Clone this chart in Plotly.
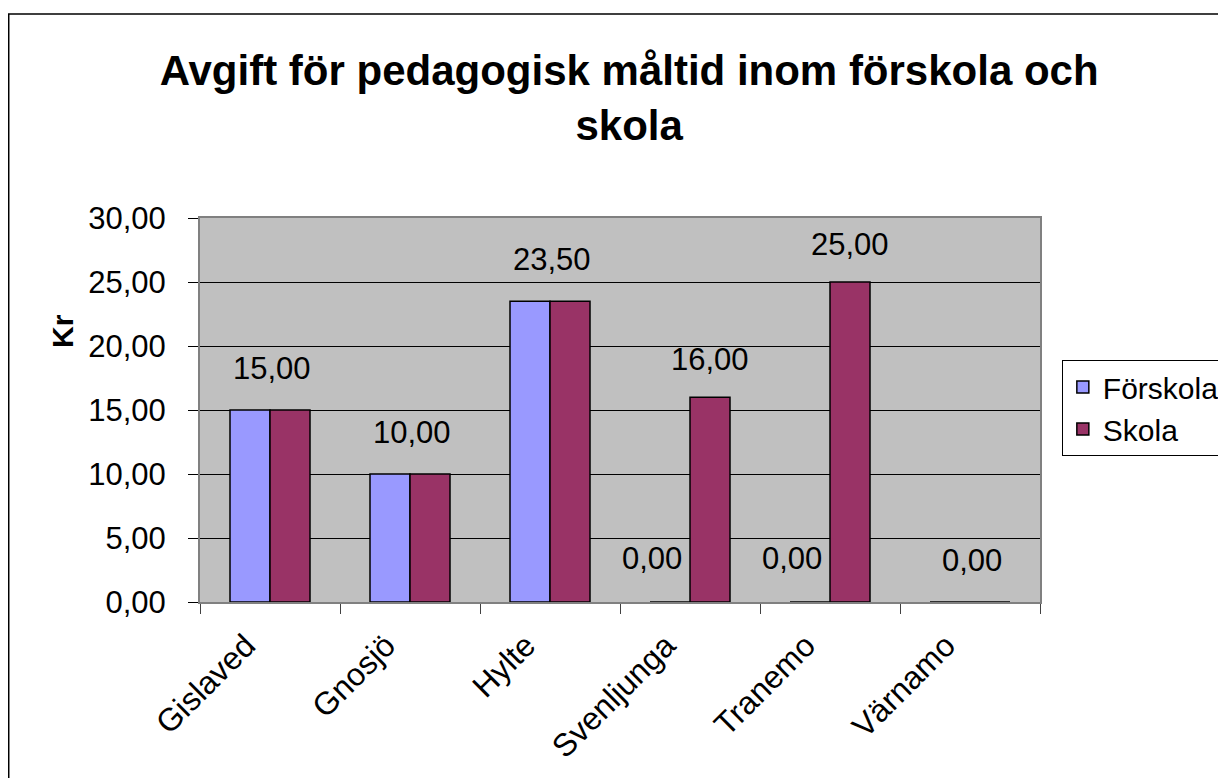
import plotly.graph_objects as go

kommuner = ["Gislaved", "Gnosjö", "Hylte", "Svenljunga", "Tranemo", "Värnamo"]
forskola = [15.00, 10.00, 23.50, 0.00, 0.00, 0.00]
skola = [15.00, 10.00, 23.50, 16.00, 25.00, 0.00]
y_ticks = [0, 5, 10, 15, 20, 25, 30]

FONT = "Arial, Liberation Sans, sans-serif"

fig = go.Figure()
fig.add_trace(go.Bar(
    x=kommuner, y=forskola, name="Förskola",
    marker=dict(color="#9999FF", line=dict(color="black", width=1.5)),
))
fig.add_trace(go.Bar(
    x=kommuner, y=skola, name="Skola",
    marker=dict(color="#993366", line=dict(color="black", width=1.5)),
))

def fmt(v):
    return f"{v:.2f}".replace(".", ",")

# datalabels, en per kommun om värdena är lika
for k, f, s in zip(kommuner, forskola, skola):
    if f == s:
        fig.add_annotation(x=k, y=f, text=fmt(f), showarrow=False,
                           yanchor="bottom", yshift=22, xshift=2)
    else:
        fig.add_annotation(x=k, y=f, text=fmt(f), showarrow=False,
                           yanchor="bottom", yshift=24, xshift=-38)
        fig.add_annotation(x=k, y=s, text=fmt(s), showarrow=False,
                           yanchor="bottom", yshift=18, xshift=20)

fig.add_annotation(
    text="<b>Kr</b>", textangle=-90, showarrow=False,
    xref="paper", yref="paper", x=-0.163, y=0.706,
    xanchor="center", yanchor="middle",
    font=dict(size=30, color="black", family=FONT),
)

# ram runt hela diagrammet
fig.add_shape(type="rect", xref="paper", yref="paper",
              x0=-0.2277, x1=1.3, y0=-0.6, y1=1.5313,
              line=dict(color="black", width=1.5), layer="below")

fig.update_layout(
    width=1218, height=770,
    margin=dict(l=192, r=186, t=210, b=176, autoexpand=False),
    paper_bgcolor="white",
    plot_bgcolor="#C0C0C0",
    separators=", ",
    font=dict(family=FONT, size=31, color="black"),
    title=dict(
        text="<b>Avgift för pedagogisk måltid inom förskola och<br>skola</b>",
        x=0.51, xanchor="center", y=0.9, yanchor="top",
        font=dict(size=42, color="black", family=FONT),
    ),
    barmode="group", bargap=0.4286, bargroupgap=0,
    legend=dict(
        x=1.026, y=0.63, xanchor="left", yanchor="top",
        bordercolor="black", borderwidth=1, bgcolor="white",
        font=dict(size=30),
    ),
    xaxis=dict(
        showgrid=False, tickangle=-45, tickson="boundaries",
        ticks="outside", ticklen=10, tickcolor="#404040",
        ticklabelshift=-24, ticklabelstandoff=10,
        tickfont=dict(size=32),
        showline=True, linecolor="#808080", linewidth=2, mirror=True,
    ),
    yaxis=dict(
        range=[0, 30], tickvals=y_ticks, tickformat=".2f",
        showgrid=True, gridcolor="black", gridwidth=1, zeroline=False,
        ticks="outside", ticklen=10, tickcolor="black",
        ticklabelstandoff=16,
        showline=True, linecolor="#808080", linewidth=2, mirror=True,
    ),
)

fig.write_html("out.html")
